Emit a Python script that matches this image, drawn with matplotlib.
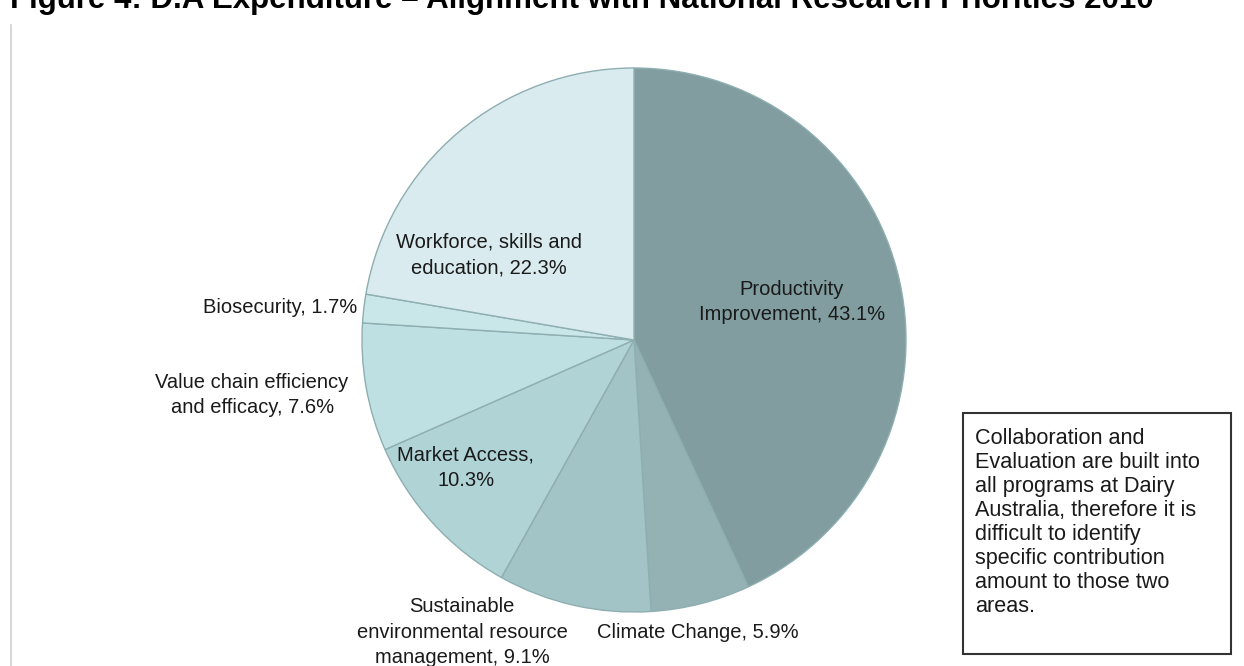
import matplotlib
matplotlib.use("Agg")
import matplotlib.pyplot as plt
from matplotlib.lines import Line2D
from matplotlib.patches import Rectangle

plt.rcParams['font.family'] = ['Liberation Sans', 'DejaVu Sans']

categories = ["Productivity\nImprovement", "Climate Change",
              "Sustainable\nenvironmental resource\nmanagement",
              "Market Access,\n", "Value chain efficiency\nand efficacy",
              "Biosecurity", "Workforce, skills and\neducation"]
values = [43.1, 5.9, 9.1, 10.3, 7.6, 1.7, 22.3]
colors = ["#819d9f", "#94b2b4", "#a3c4c6", "#b0d3d6", "#bfe0e3", "#c9e6e9", "#d9ebee"]
title = "Figure 4: D.A Expenditure \u2013 Alignment with National Research Priorities 2010"
note = ("Collaboration and\nEvaluation are built into\nall programs at Dairy\n"
        "Australia, therefore it is\ndifficult to identify\nspecific contribution\n"
        "amount to those two\nareas.")

# label anchor positions (axes data units, pie radius = 1) and alignment
label_pos = [(0.58, 0.14, 'center'), (0.235, -1.074, 'center'), (-0.632, -1.074, 'center'),
             (-0.618, -0.47, 'center'), (-1.404, -0.202, 'center'), (-1.018, 0.121, 'right'),
             (-0.533, 0.3125, 'center')]

W, H = 1244, 666
fig = plt.figure(figsize=(W / 100, H / 100), dpi=100)
fig.patch.set_facecolor('white')

cx, cy, r = 634, 340, 272
ax = fig.add_axes([(cx - r) / W, (H - cy - r) / H, 2 * r / W, 2 * r / H])
ax.pie(values, colors=colors, startangle=90, counterclock=False,
       wedgeprops=dict(edgecolor='#8eaeb1', linewidth=1.0), radius=1.0)
ax.set_xlim(-1, 1)
ax.set_ylim(-1, 1)
ax.axis('off')

for cat, v, (lx, ly, ha) in zip(categories, values, label_pos):
    cat = cat.rstrip('\n')
    if cat.endswith(','):
        txt = f"{cat}\n{v}%"
    else:
        txt = f"{cat}, {v}%"
    ax.text(lx, ly, txt, ha=ha, va='center', fontsize=14.5, color='#1a1a1a',
            linespacing=1.45, clip_on=False)

# title (top clipped as in the reference)
fig.text(10 / W, 1 - 8 / H, title, ha='left', va='baseline', fontsize=22.5,
         fontweight='bold', color='black')

# left border line
fig.add_artist(Line2D([11 / W, 11 / W], [0, 1 - 25 / H], transform=fig.transFigure,
                      color='#d0d0d0', linewidth=1.2))

# note box
bx0, by0, bx1, by1 = 963, 413, 1231, 654
fig.add_artist(Rectangle((bx0 / W, 1 - by1 / H), (bx1 - bx0) / W, (by1 - by0) / H,
                         transform=fig.transFigure, fill=False, edgecolor='#333333',
                         linewidth=1.5))
fig.text(975 / W, 1 - 428 / H, note, ha='left', va='top', fontsize=15.6,
         color='#1a1a1a', linespacing=1.19)

fig.savefig("out.png", dpi=100, facecolor='white')
